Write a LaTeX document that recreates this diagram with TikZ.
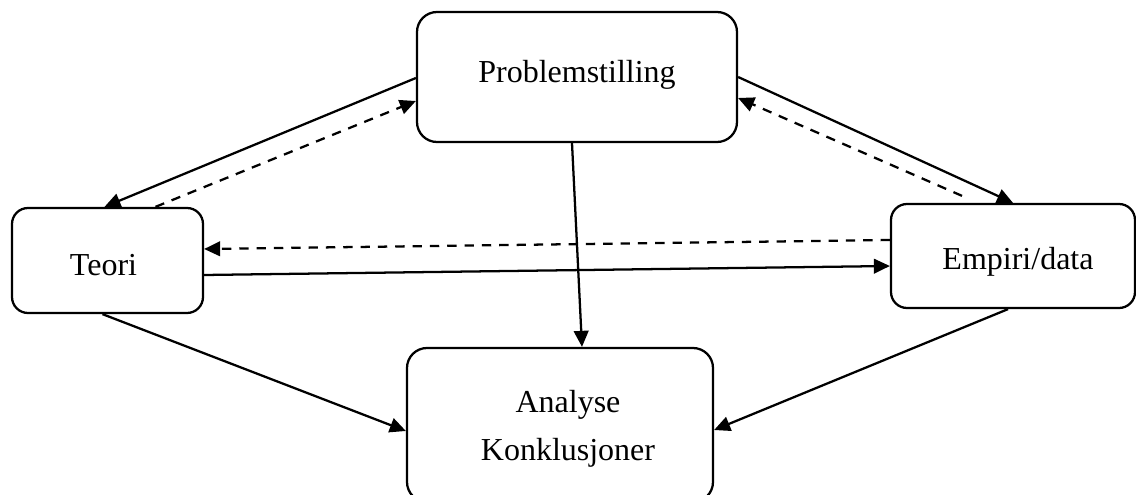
\documentclass[tikz,border=0pt]{standalone}
\usepackage{fontspec}
\setmainfont{Liberation Serif}
\usetikzlibrary{arrows.meta,calc}
\begin{document}
\begin{tikzpicture}[x=0.75pt,y=-0.75pt,
  box/.style={draw,line width=1.7pt,rounded corners=#1,inner sep=0pt},
  box/.default=12pt,
  caption/.style={font=\fontsize{24}{36}\selectfont,align=center,inner sep=0pt},
  link/.style={line width=1.7pt,-{Triangle[length=12pt,width=11pt]}},
  back/.style={link,dash pattern=on 7pt off 6pt}]
\useasboundingbox (0,0) rectangle (1136,495);
\fill[white] (0,0) rectangle (1136,495);
\clip (0,0) rectangle (1136,495);

% boxes with their captions
\node[box=15pt,minimum width=240pt,minimum height=97.5pt,
  label={[caption,name=probtext,yshift=1.5pt]center:Problemstilling}] (prob) at (577,77) {};
\node[box,minimum width=143.25pt,minimum height=78.75pt,
  label={[caption,name=teoritext,xshift=-3pt,yshift=-3.75pt]center:Teori}] (teori) at (107.5,260.5) {};
\node[box,minimum width=183pt,minimum height=78pt,
  label={[caption,name=emptext,xshift=3.75pt,yshift=-4.5pt]center:Empiri/data}] (emp) at (1013,256) {};
\node[box=15pt,minimum width=229.5pt,minimum height=115.5pt,
  label={[caption,name=anatext,xshift=6pt,yshift=-3pt]center:Analyse\\Konklusjoner}] (ana) at (560,425) {};

% connectors
\draw[link] ($(prob.west)+(0,1)$) -- ($(teori.north)+(-3,0)$);
\draw[back] ($(teori.north)+(48,0)$) -- ($(prob.west)+(0,24)$);
\draw[link] (prob.east) -- (emp.north);
\draw[back] ($(emp.north)+(-51,-7)$) -- ($(prob.east)+(0,21)$);
\draw[link] ($(prob.south)+(-5,0)$) -- ($(ana.north)+(22,0)$);
\draw[back] ($(emp.west)+(0,-16)$) -- ($(teori.east)+(0,-11.5)$);
\draw[link] ($(teori.east)+(0,14.5)$) -- ($(emp.west)+(0,10)$);
\draw[link] ($(teori.south)+(-5,0)$) -- ($(ana.west)+(0,6)$);
\draw[link] ($(emp.south)+(-5,0)$) -- ($(ana.east)+(0,5)$);
\end{tikzpicture}
\end{document}
